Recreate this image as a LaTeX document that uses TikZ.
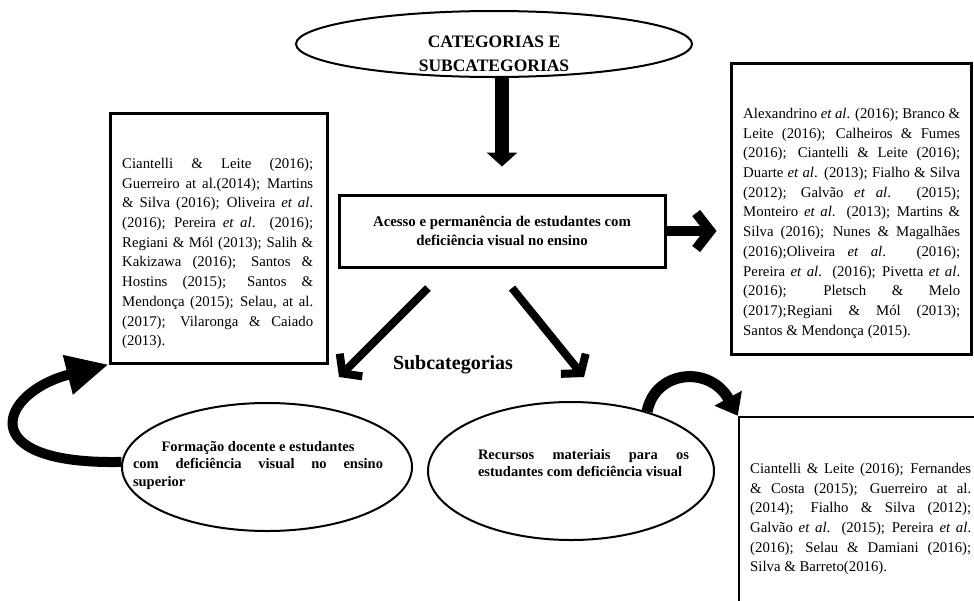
\documentclass[tikz,border=0pt]{standalone}
\usepackage{fontspec}
\setmainfont{Liberation Serif}
\usetikzlibrary{arrows.meta,shapes.geometric,calc}
\newlength\jw
\newcommand\setjw[1]{\global\jw=#1\relax}
\newcommand\jl[1]{\makebox[\jw][s]{#1}}
\newcommand\lastl[1]{\makebox[\jw][l]{#1}}
\newcommand\midl[1]{\makebox[\jw][c]{#1}}
\tikzset{
  listbox/.style={draw, line width=3pt, rectangle, inner sep=0pt},
  listtext/.style={inner sep=0pt, align=left, font=\fontsize{14.8}{19.7}\selectfont},
  ovalbox/.style={draw, line width=2pt, ellipse, inner sep=0pt},
  ovaltext/.style={inner sep=0pt, align=left, font=\bfseries\fontsize{14.5}{17.5}\selectfont},
  downarrow/.style={line width=14pt, -{Triangle[length=14pt,width=30pt]}},
  chevarrow/.style={line width=10pt, -{Straight Barb[length=14pt,width=36pt]}},
  diagarrow/.style={line width=8pt, -{Straight Barb[length=12pt,width=32pt]}},
  curvearrow/.style={line width=10pt, -{Triangle[length=42pt,width=38pt]}},
  curvearrowb/.style={line width=11pt, -{Triangle[length=20pt,width=30pt]}}
}
\begin{document}
\begin{tikzpicture}[x=1pt,y=-1pt]
\useasboundingbox (0,0) rectangle (974,600);
\fill[white] (0,0) rectangle (974,600);
\clip (0,0) rectangle (974,600);

% top ellipse
\node[ovalbox, minimum width=396pt, minimum height=66pt] (topE) at (494,44) {};
\node[inner sep=0pt, align=center, font=\bfseries\fontsize{17.5}{24}\selectfont] (topT) at (494,54)
  {CATEGORIAS E\\SUBCATEGORIAS};

% central box
\node[listbox, minimum width=326pt, minimum height=72pt, align=center,
      font=\bfseries\fontsize{14.8}{18.5}\selectfont] (center) at (502,231)
  {Acesso e permanência de estudantes com\\deficiência visual no ensino};

% left list box
\node[listbox, minimum width=217pt, minimum height=250pt] (ltbox) at (218.5,238) {};
\node[listtext, anchor=north west] (ltT) at (122,158) {\setjw{191pt}%
\jl{Ciantelli \& Leite (2016);}\\
\jl{Guerreiro at al.(2014); Martins}\\
\jl{\& Silva (2016); Oliveira \textit{et al}.}\\
\jl{(2016); Pereira \textit{et al}. (2016);}\\
\jl{Regiani \& Mól (2013); Salih \&}\\
\jl{Kakizawa (2016); Santos \&}\\
\jl{Hostins (2015); Santos \&}\\
\jl{Mendonça (2015); Selau, at al.}\\
\jl{(2017); Vilaronga \& Caiado}\\
\lastl{(2013).}};

% right top list box
\node[listbox, minimum width=240pt, minimum height=291pt] (rtbox) at (851,208.5) {};
\node[listtext, anchor=north west] (rtT) at (743,108) {\setjw{217pt}%
\jl{Alexandrino \textit{et al}. (2016); Branco \&}\\
\jl{Leite (2016); Calheiros \& Fumes}\\
\jl{(2016); Ciantelli \& Leite (2016);}\\
\jl{Duarte \textit{et al}. (2013); Fialho \& Silva}\\
\jl{(2012); Galvão \textit{et} \textit{al}. (2015);}\\
\jl{Monteiro \textit{et al}. (2013); Martins \&}\\
\jl{Silva (2016); Nunes \& Magalhães}\\
\jl{(2016);Oliveira \textit{et} \textit{al}. (2016);}\\
\jl{Pereira \textit{et al}. (2016); Pivetta \textit{et al}.}\\
\jl{(2016); Pletsch \& Melo}\\
\jl{(2017);Regiani \& Mól (2013);}\\
\lastl{Santos \& Mendonça (2015).}};

% bottom right list box (runs off the page)
\node[draw, line width=2.5pt, rectangle, inner sep=0pt, minimum width=241pt, minimum height=193pt] (brbox) at (859.5,513.5) {};
\node[listtext, anchor=north west] (brT) at (750,463) {\setjw{221pt}%
\jl{Ciantelli \& Leite (2016); Fernandes}\\
\jl{\& Costa (2015); Guerreiro at al.}\\
\jl{(2014); Fialho \& Silva (2012);}\\
\jl{Galvão \textit{et al}. (2015); Pereira \textit{et al}.}\\
\jl{(2016); Selau \& Damiani (2016);}\\
\lastl{Silva \& Barreto(2016).}};

% subcategory ellipses
\node[ovalbox, minimum width=290pt, minimum height=128pt] (form) at (267,467) {};
\node[ovaltext] (formT) at (258,465) {\setjw{250pt}%
\midl{Formação docente e estudantes}\\
\jl{com deficiência visual no ensino}\\
\lastl{superior}};
\node[ovalbox, minimum width=286pt, minimum height=138pt] (rec) at (571,471) {};
\node[ovaltext, font=\bfseries\fontsize{14.5}{17}\selectfont] (recT) at (583.5,463.5) {\setjw{211pt}%
\jl{Recursos materiais para os}\\
\lastl{estudantes com deficiência visual}};

\node[inner sep=0pt, font=\bfseries\fontsize{20}{24}\selectfont] (sub) at (453,365) {Subcategorias};

% arrows
\draw[downarrow, shorten >=27pt] (topE.south -| center.north) -- (center.north);
\draw[chevarrow, shorten >=13pt] (center.east) -- (rtbox.west |- center.east);
\coordinate (dlS) at (428,288);
\coordinate (dlE) at (339,377);
\coordinate (drS) at (512,288);
\coordinate (drE) at (584,377);
\draw[diagarrow] (dlS) -- (dlE);
\draw[diagarrow] (drS) -- (drE);
\draw[curvearrow] (form.178) .. controls (-30,465) and (0,392) .. (ltbox.south west);
\draw[curvearrowb] (rec.38) .. controls (655,370) and (710,365) .. (brbox.north west);
\end{tikzpicture}
\end{document}
